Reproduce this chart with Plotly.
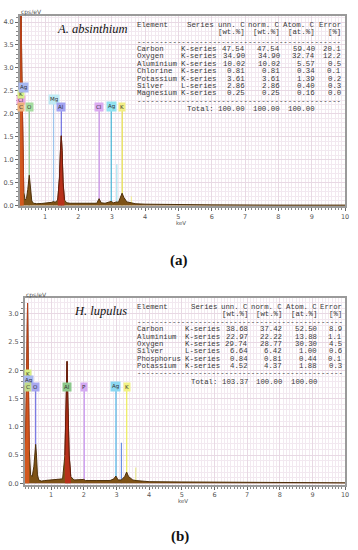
import plotly.graph_objects as go

W, H = 358, 550

# ---------------- data: panel (a) A. absinthium ----------------
a_energy = [0.20, 0.22, 0.25, 0.277, 0.30, 0.33, 0.36, 0.40, 0.44, 0.48, 0.51, 0.525, 0.54, 0.57,
            0.60, 0.65, 0.75, 0.90, 1.00, 1.10, 1.20, 1.254, 1.30, 1.38, 1.43, 1.46, 1.486, 1.51,
            1.54, 1.58, 1.65, 1.75, 2.00, 2.30, 2.55, 2.62, 2.68, 2.80, 2.92, 2.98, 3.05, 3.15,
            3.20, 3.26, 3.31, 3.36, 3.45, 3.59, 3.70, 4.00, 5.00, 6.00, 8.00, 10.00]
a_counts = [0.00, 0.80, 3.00, 4.60, 3.00, 1.00, 0.30, 0.12, 0.15, 0.35, 0.60, 0.66, 0.55, 0.25,
            0.10, 0.05, 0.04, 0.045, 0.05, 0.06, 0.07, 0.09, 0.07, 0.12, 0.60, 1.20, 1.52, 1.20,
            0.50, 0.12, 0.06, 0.05, 0.05, 0.045, 0.05, 0.15, 0.06, 0.05, 0.07, 0.09, 0.06, 0.08,
            0.07, 0.18, 0.27, 0.18, 0.08, 0.06, 0.04, 0.03, 0.02, 0.015, 0.01, 0.01]

a_line_keV = [0.277, 0.525, 1.254, 1.486, 2.622, 2.984, 3.151, 3.313, 3.590]
a_line_top = [2.15, 2.15, 2.31, 2.15, 2.15, 2.15, 0.90, 2.15, 0.20]
a_line_col = ["#e08a40", "#8cc88c", "#9cc4ec", "#6f6fe0", "#c58ee6", "#4ab8d8", "#a8e4f0", "#e6e04a", "#f0eca0"]

a_lab_text = ["Cl", "K", "Ag", "C", "O", "Mg", "Al", "Cl", "Ag", "K"]
a_lab_keV = [0.27, 0.275, 0.34, 0.277, 0.525, 1.254, 1.486, 2.622, 2.984, 3.313]
a_lab_y = [2.30, 2.43, 2.58, 2.15, 2.15, 2.31, 2.15, 2.15, 2.15, 2.15]
a_lab_bg = ["#f0a8e0", "#d8f088", "#a8b8f0", "#eeb27a", "#a6dca0", "#bfeaf4", "#a2a2f2", "#dcaaf2", "#8fe2f0", "#f2ee86"]

a_elements = ["Carbon", "Oxygen", "Aluminium", "Chlorine", "Potassium", "Silver", "Magnesium"]
a_series = ["K-series", "K-series", "K-series", "K-series", "K-series", "L-series", "K-series"]
a_unn = [47.54, 34.90, 10.02, 0.81, 3.61, 2.86, 0.25]
a_norm = [47.54, 34.90, 10.02, 0.81, 3.61, 2.86, 0.25]
a_atom = [59.40, 32.74, 5.57, 0.34, 1.39, 0.40, 0.16]
a_err = [20.1, 12.2, 0.5, 0.1, 0.2, 0.3, 0.0]
a_total = [100.00, 100.00, 100.00]

# ---------------- data: panel (b) H. lupulus ----------------
b_energy = [0.19, 0.22, 0.25, 0.277, 0.30, 0.33, 0.37, 0.42, 0.47, 0.50, 0.525, 0.55, 0.58, 0.62,
            0.70, 0.80, 1.00, 1.20, 1.35, 1.42, 1.46, 1.486, 1.51, 1.55, 1.60, 1.70, 2.00, 2.05,
            2.40, 2.80, 2.92, 2.98, 3.05, 3.15, 3.25, 3.31, 3.37, 3.50, 3.60, 4.00, 5.00, 7.00, 10.00]
b_counts = [0.70, 0.90, 2.00, 3.19, 2.00, 0.60, 0.15, 0.12, 0.30, 0.60, 0.69, 0.50, 0.15, 0.06,
            0.04, 0.05, 0.06, 0.07, 0.08, 0.50, 1.50, 2.16, 1.50, 0.50, 0.12, 0.06, 0.07, 0.05,
            0.05, 0.05, 0.08, 0.13, 0.06, 0.06, 0.12, 0.20, 0.12, 0.06, 0.05, 0.03, 0.025, 0.015, 0.01]

b_line_keV = [0.277, 0.525, 1.486, 2.013, 2.984, 3.151, 3.313, 3.590]
b_line_top = [1.71, 1.71, 1.71, 1.71, 1.71, 0.72, 1.71, 0.28]
b_line_col = ["#b8d890", "#7474e2", "#78b878", "#c896f0", "#52b8e8", "#6a90e2", "#eeee5a", "#e8e896"]

b_lab_text = ["K", "Ag", "C", "O", "Al", "P", "Ag", "K"]
b_lab_keV = [0.28, 0.30, 0.277, 0.525, 1.486, 2.013, 2.984, 3.313]
b_lab_y = [1.94, 1.83, 1.71, 1.71, 1.71, 1.71, 1.71, 1.71]
b_lab_bg = ["#d8f084", "#a8b8f0", "#c2dc8c", "#a8a8f0", "#8cc88c", "#d4aaf2", "#8cd8f2", "#f2f284"]

b_elements = ["Carbon", "Aluminium", "Oxygen", "Silver", "Phosphorus", "Potassium"]
b_series = ["K-series", "K-series", "K-series", "L-series", "K-series", "K-series"]
b_unn = [38.68, 22.97, 29.74, 6.64, 0.84, 4.52]
b_norm = [37.42, 22.22, 28.77, 6.42, 0.81, 4.37]
b_atom = [52.50, 13.88, 30.30, 1.00, 0.44, 1.88]
b_err = [8.9, 1.1, 4.5, 0.6, 0.1, 0.3]
b_total = [103.37, 100.00, 100.00]

x_ticks = list(range(1, 11))


def px(xp):
    return xp / W


def py(yp):
    return 1 - yp / H


MONO = "Liberation Mono, Courier New, monospace"
SANS = "DejaVu Sans, Verdana, sans-serif"
SERIF = "Liberation Serif, Times New Roman, serif"
GRID_MAJ = "#e8d9e4"
GRID_MIN = "#f2e9f0"

fig = go.Figure()
annotations = []
shapes = []


def txt(x, y, s, anchor, size, color="#3a3a3a", family=MONO):
    annotations.append(dict(xref="paper", yref="paper", x=px(x), y=py(y), xanchor=anchor,
                            yanchor="middle", text=s, showarrow=False, borderpad=0,
                            font=dict(size=size, color=color, family=family)))


def panel(k, energy, counts, line_keV, line_top, line_col, lab_text, lab_keV, lab_y, lab_bg,
          elements, series, unn, norm, atom, err, total, name,
          xdom, ydom, xr, yr, yticks, rows_y, cw, fsize, title_xy, cps_xy, kev_xy, rect_y):
    xa = "x" if k == 1 else "x%d" % k
    ya = "y" if k == 1 else "y%d" % k
    xl = "xaxis" if k == 1 else "xaxis%d" % k
    yl = "yaxis" if k == 1 else "yaxis%d" % k

    # spectrum
    fig.add_trace(go.Scatter(x=energy, y=counts, xaxis=xa, yaxis=ya, mode="lines",
                             line=dict(color="#4e300a", width=1), fill="tozeroy",
                             fillcolor="#7e5216", showlegend=False, hoverinfo="skip"))
    cx = [e for e in energy if e <= 0.36]
    cy = [c for e, c in zip(energy, counts) if e <= 0.36]
    fig.add_trace(go.Scatter(x=cx, y=cy, xaxis=xa, yaxis=ya, mode="lines",
                             line=dict(color="#b8401a", width=1), fill="tozeroy",
                             fillcolor="#d2581e", showlegend=False, hoverinfo="skip"))
    ax_ = [e for e in energy if 1.38 <= e <= 1.60]
    ay_ = [c for e, c in zip(energy, counts) if 1.38 <= e <= 1.60]
    fig.add_trace(go.Scatter(x=ax_, y=ay_, xaxis=xa, yaxis=ya, mode="lines",
                             line=dict(color="#6a1c0c", width=1), fill="tozeroy",
                             fillcolor="#b8301a", showlegend=False, hoverinfo="skip"))

    # element marker lines
    for e, t, c in zip(line_keV, line_top, line_col):
        shapes.append(dict(type="line", xref=xa, yref=ya, x0=e, x1=e, y0=0, y1=t,
                           line=dict(color=c, width=1.2), layer="between"))
    # element labels
    for t, e, yv, bg in zip(lab_text, lab_keV, lab_y, lab_bg):
        annotations.append(dict(xref=xa, yref=ya, x=e, y=yv, text=t, showarrow=False,
                                bgcolor=bg, borderpad=1, font=dict(size=5.5, color="#333", family=SANS)))

    layout_x = dict(domain=xdom, range=xr, anchor=ya, tickmode="array", tickvals=x_ticks,
                    ticks="outside", ticklen=3, tickcolor="#666", tickwidth=1,
                    minor=dict(dtick=0.1, tick0=0, ticks="outside", ticklen=2, tickcolor="#888",
                               showgrid=True, gridcolor=GRID_MIN, gridwidth=1),
                    showgrid=True, gridcolor=GRID_MAJ, gridwidth=1, zeroline=False,
                    showline=True, linecolor="#9a9a9a", linewidth=1.5, mirror=True,
                    tickfont=dict(size=6.5, color="#555", family=SANS))
    layout_y = dict(domain=ydom, range=yr, anchor=xa, tickmode="array", tickvals=yticks,
                    ticktext=["%.1f" % v for v in yticks],
                    ticks="outside", ticklen=3, tickcolor="#666", tickwidth=1,
                    minor=dict(dtick=0.1, tick0=0, ticks="outside", ticklen=2, tickcolor="#888",
                               showgrid=True, gridcolor=GRID_MIN, gridwidth=1),
                    showgrid=True, gridcolor=GRID_MAJ, gridwidth=1, zeroline=False,
                    showline=True, linecolor="#9a9a9a", linewidth=1.5, mirror=True,
                    tickfont=dict(size=6.5, color="#555", family=SANS))
    fig.update_layout(**{xl: layout_x, yl: layout_y})

    # white table box
    shapes.append(dict(type="rect", xref="paper", yref="paper", x0=px(135), x1=px(348),
                       y0=py(rect_y[1]), y1=py(rect_y[0]), fillcolor="white",
                       line=dict(width=0), layer="between"))

    # table columns (monospace layout: right edges in character cells)
    x0 = 138
    ew = max(len(s) for s in elements) + 1
    c_ser_l = x0 + ew * cw
    c_ser_r = x0 + (ew + 8) * cw
    c_unn = x0 + (ew + 15) * cw
    c_norm = x0 + (ew + 23) * cw
    c_atom = x0 + (ew + 31) * cw
    c_err = x0 + (ew + 37) * cw
    n_chars = ew + 37

    y_head, y_unit, y_dash1 = rows_y[0], rows_y[1], rows_y[2]
    y_rows = rows_y[3:3 + len(elements)]
    y_dash2, y_tot = rows_y[3 + len(elements)], rows_y[4 + len(elements)]

    txt(x0, y_head, "Element", "left", fsize)
    txt(c_ser_r, y_head, "Series", "right", fsize)
    txt(c_unn, y_head, "unn. C", "right", fsize)
    txt(c_norm, y_head, "norm. C", "right", fsize)
    txt(c_atom, y_head, "Atom. C", "right", fsize)
    txt(c_err, y_head, "Error", "right", fsize)
    txt(c_unn, y_unit, "[wt.%]", "right", fsize)
    txt(c_norm, y_unit, "[wt.%]", "right", fsize)
    txt(c_atom, y_unit, "[at.%]", "right", fsize)
    txt(c_err, y_unit, "[%]", "right", fsize)
    txt(x0, y_dash1, "-" * (n_chars - 1), "left", fsize)
    for el, se, u, n, a, er, yy in zip(elements, series, unn, norm, atom, err, y_rows):
        txt(x0, yy, el, "left", fsize)
        txt(c_ser_l, yy, se, "left", fsize)
        txt(c_unn, yy, "%.2f" % u, "right", fsize)
        txt(c_norm, yy, "%.2f" % n, "right", fsize)
        txt(c_atom, yy, "%.2f" % a, "right", fsize)
        txt(c_err, yy, "%.1f" % er, "right", fsize)
    txt(x0, y_dash2, "-" * (n_chars - 1), "left", fsize)
    txt(c_ser_r, y_tot, "Total:", "right", fsize)
    txt(c_unn, y_tot, "%.2f" % total[0], "right", fsize)
    txt(c_norm, y_tot, "%.2f" % total[1], "right", fsize)
    txt(c_atom, y_tot, "%.2f" % total[2], "right", fsize)

    txt(title_xy[0], title_xy[1], "<i>%s</i>" % name, "right", 12.5, "#111", SERIF)
    txt(cps_xy[0], cps_xy[1], "cps/eV", "left", 6, "#555", SANS)
    txt(kev_xy[0], kev_xy[1], "keV", "center", 5.5, "#555", SANS)


def rows(start, first_row, n_rows, step):
    r = [start, start + 7.3, first_row - 7.0]
    r += [first_row + i * step for i in range(n_rows)]
    last = r[-1]
    r += [last + 7.4, last + 15.8]
    return r


panel(1, a_energy, a_counts, a_line_keV, a_line_top, a_line_col, a_lab_text, a_lab_keV, a_lab_y, a_lab_bg,
      a_elements, a_series, a_unn, a_norm, a_atom, a_err, a_total, "A. absinthium",
      [px(20), px(349)], [py(207.6), py(15.7)], [0.24, 10.0], [-0.02, 4.14],
      [0.0, 0.5, 1.0, 1.5, 2.0, 2.5, 3.0, 3.5, 4.0],
      rows(25, 49.3, 7, 7.45), 4.43, 7.4, (129, 29.5), (20, 12.0), (183, 224), (16.5, 114))

panel(2, b_energy, b_counts, b_line_keV, b_line_top, b_line_col, b_lab_text, b_lab_keV, b_lab_y, b_lab_bg,
      b_elements, b_series, b_unn, b_norm, b_atom, b_err, b_total, "H. lupulus",
      [px(25), px(349)], [py(487.5), py(300)], [0.19, 10.0], [-0.026, 3.276],
      [0.0, 0.5, 1.0, 1.5, 2.0, 2.5, 3.0],
      rows(308.3, 331, 6, 7.4), 4.36, 7.3, (129, 312.5), (25, 297.0), (185, 504), (301, 388))

txt(181, 262, "<b>(a)</b>", "center", 15, "#111", SERIF)
txt(182, 539, "<b>(b)</b>", "center", 15, "#111", SERIF)

fig.update_layout(width=W, height=H, margin=dict(l=0, r=0, t=0, b=0),
                  paper_bgcolor="white", plot_bgcolor="white",
                  annotations=annotations, shapes=shapes, showlegend=False)

fig.write_html("out.html", config={"displayModeBar": False},
               post_script="document.body.style.margin='0px';document.body.style.padding='0px';"
                           "document.body.style.overflow='hidden';")
